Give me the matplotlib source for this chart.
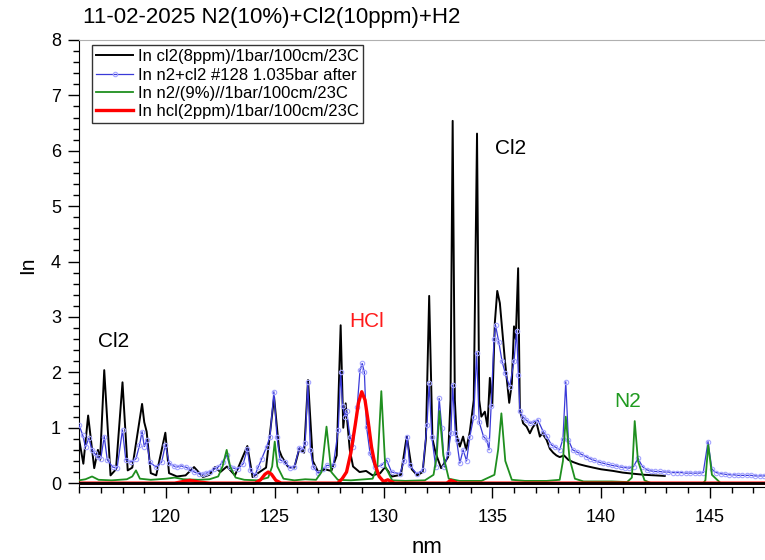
import matplotlib
matplotlib.use("Agg")
import matplotlib.pyplot as plt
from matplotlib.ticker import MultipleLocator

plt.rcParams['font.family'] = ['Liberation Sans', 'DejaVu Sans']

title = "11-02-2025 N2(10%)+Cl2(10ppm)+H2"
labels = ["In cl2(8ppm)/1bar/100cm/23C",
          "In n2+cl2 #128 1.035bar after",
          "In n2/(9%)//1bar/100cm/23C",
          "In hcl(2ppm)/1bar/100cm/23C"]

# Cl2 reference spectrum
cl2_nm = [116.0, 116.2, 116.42, 116.7, 116.87, 116.97, 117.16, 117.45, 117.7, 118.0,
          118.24, 118.45, 118.9, 119.0, 119.11, 119.3, 119.55, 119.97, 120.14, 120.5,
          120.9, 121.29, 121.7, 122.0, 122.25, 122.5, 122.8, 123.17, 123.74, 123.98,
          124.3, 124.6, 124.97, 125.2, 125.32, 125.6, 125.9, 126.13, 126.35, 126.53,
          126.75, 127.0, 127.3, 127.6, 127.85, 128.03, 128.15, 128.26, 128.45, 128.6,
          128.9, 129.2, 129.5, 129.85, 130.07, 130.4, 130.8, 131.07, 131.3, 131.55,
          131.8, 131.95, 132.1, 132.25, 132.4, 132.65, 132.97, 133.08, 133.18, 133.28,
          133.36, 133.51, 133.66, 133.8, 133.97, 134.15, 134.3, 134.4, 134.5, 134.66,
          134.78, 134.89, 135.0, 135.12, 135.23, 135.35, 135.58, 135.78, 135.9, 136.0,
          136.08, 136.19, 136.27, 136.42, 136.58, 136.73, 136.85, 137.03, 137.19, 137.3,
          137.5, 137.65, 137.8, 137.95, 138.1, 138.3, 138.5, 138.72, 139.0, 139.3,
          139.64, 140.0, 140.56, 141.0, 141.47, 142.0, 142.5, 142.93]
cl2_val = [0.80, 0.35, 1.22, 0.27, 0.60, 0.42, 2.04, 0.14, 0.25, 1.82,
           0.23, 0.28, 1.43, 1.10, 0.93, 0.18, 0.14, 0.91, 0.18, 0.12,
           0.14, 0.29, 0.11, 0.15, 0.29, 0.20, 0.30, 0.14, 0.67, 0.11,
           0.20, 0.28, 1.55, 0.60, 0.48, 0.30, 0.28, 0.62, 0.55, 1.86,
           0.40, 0.20, 0.25, 0.22, 0.50, 2.85, 1.00, 1.44, 0.60, 0.30,
           0.20, 0.22, 0.14, 0.18, 0.29, 0.12, 0.15, 0.85, 0.25, 0.14,
           0.20, 0.80, 3.38, 0.80, 0.54, 0.27, 0.47, 1.50, 6.54, 1.50,
           0.87, 0.66, 0.84, 0.60, 0.93, 1.50, 6.31, 1.50, 1.20, 1.29,
           1.02, 1.90, 1.40, 2.90, 3.47, 3.25, 2.22, 1.45, 1.80, 2.83,
           2.60, 3.88, 1.32, 1.08, 1.02, 0.90, 1.00, 1.10, 0.84, 0.90,
           0.78, 0.62, 0.55, 0.50, 0.47, 0.50, 0.42, 0.38, 0.34, 0.31,
           0.28, 0.25, 0.22, 0.19, 0.17, 0.15, 0.14, 0.13]

# N2 + Cl2 mixture, run #128
mix_nm = [116.0, 116.17, 116.3, 116.45, 116.6, 116.72, 116.86, 117.0, 117.16, 117.3,
          117.55, 117.75, 118.0, 118.15, 118.4, 118.62, 118.78, 118.9, 119.0, 119.11,
          119.25, 119.54, 119.8, 119.97, 120.15, 120.35, 120.5, 120.7, 120.9, 121.1,
          121.3, 121.5, 121.7, 121.85, 122.0, 122.2, 122.4, 122.6, 122.79, 122.95,
          123.1, 123.32, 123.55, 123.74, 123.88, 124.09, 124.25, 124.4, 124.63, 124.78,
          124.96, 125.1, 125.24, 125.47, 125.7, 125.9, 126.13, 126.27, 126.4, 126.52,
          126.64, 126.77, 127.0, 127.2, 127.4, 127.69, 127.92, 128.03, 128.12, 128.23,
          128.3, 128.46, 128.6, 128.79, 128.92, 129.02, 129.12, 129.22, 129.38, 129.6,
          129.91, 130.14, 130.37, 130.75, 130.95, 131.09, 131.2, 131.52, 131.8, 132.0,
          132.1, 132.22, 132.4, 132.56, 132.68, 132.8, 132.97, 133.1, 133.18, 133.3,
          133.36, 133.51, 133.66, 133.82, 133.97, 134.15, 134.28, 134.4, 134.6, 134.75,
          134.85, 134.95, 135.08, 135.15, 135.3, 135.45, 135.6, 135.8, 136.0, 136.12,
          136.2, 136.27, 136.4, 136.55, 136.75, 136.9, 137.1, 137.34, 137.5, 137.72,
          137.9, 138.1, 138.25, 138.38, 138.5, 138.7, 138.9, 139.1, 139.3, 139.5,
          139.7, 139.9, 140.1, 140.3, 140.5, 140.7, 140.9, 141.1, 141.3, 141.5,
          141.7, 141.9, 142.1, 142.3, 142.5, 142.7, 142.9, 143.1, 143.3, 143.5,
          143.7, 143.9, 144.1, 144.3, 144.5, 144.7, 144.92, 145.1, 145.3, 145.5,
          145.7, 145.9, 146.1, 146.3, 146.5, 146.7, 146.9, 147.1, 147.3, 147.5,
          147.7, 147.9]
mix_val = [1.05, 0.87, 0.65, 0.81, 0.60, 0.54, 0.47, 0.44, 0.84, 0.42,
           0.29, 0.27, 0.96, 0.42, 0.38, 0.44, 0.68, 0.93, 0.66, 0.78,
           0.38, 0.29, 0.38, 0.69, 0.36, 0.31, 0.29, 0.31, 0.29, 0.25,
           0.20, 0.17, 0.16, 0.18, 0.20, 0.25, 0.29, 0.38, 0.50, 0.29,
           0.27, 0.26, 0.35, 0.62, 0.23, 0.14, 0.30, 0.44, 0.66, 0.84,
           1.65, 0.84, 0.42, 0.38, 0.27, 0.29, 0.64, 0.60, 0.72, 1.82,
           0.60, 0.29, 0.18, 0.25, 0.32, 0.32, 0.96, 2.00, 1.40, 1.20,
           1.30, 0.84, 0.66, 1.38, 2.04, 2.16, 2.00, 1.02, 0.54, 0.29,
           0.32, 0.42, 0.20, 0.17, 0.40, 0.84, 0.32, 0.17, 0.23, 1.05,
           1.80, 0.84, 0.29, 1.53, 1.00, 0.29, 0.55, 0.90, 1.77, 0.90,
           0.78, 0.36, 0.60, 0.40, 0.84, 1.20, 2.35, 1.10, 0.84, 0.78,
           0.60, 1.40, 2.60, 2.85, 2.55, 2.20, 1.98, 1.74, 2.20, 2.75,
           1.95, 1.30, 1.20, 1.14, 1.08, 1.10, 1.14, 0.93, 0.85, 0.69,
           0.65, 0.60, 0.80, 1.83, 0.78, 0.60, 0.56, 0.52, 0.48, 0.44,
           0.41, 0.38, 0.36, 0.34, 0.32, 0.31, 0.29, 0.28, 0.27, 0.30,
           0.45, 0.30, 0.24, 0.22, 0.21, 0.21, 0.20, 0.20, 0.19, 0.19,
           0.19, 0.18, 0.18, 0.18, 0.18, 0.19, 0.75, 0.25, 0.19, 0.17,
           0.16, 0.15, 0.15, 0.14, 0.14, 0.14, 0.14, 0.13, 0.13, 0.13,
           0.13, 0.13]

# N2 reference spectrum
n2_nm = [116.0, 116.3, 116.6, 116.9, 117.5, 118.2, 118.45, 118.62, 118.8, 119.3,
         120.0, 120.4, 120.8, 121.5, 122.0, 122.4, 122.6, 122.79, 122.95, 123.2,
         123.6, 124.2, 124.7, 124.88, 125.0, 125.12, 125.4, 125.9, 126.4, 126.9,
         127.15, 127.38, 127.6, 127.9, 128.5, 129.5, 129.72, 129.9, 130.08, 130.4,
         131.0, 131.9, 132.3, 132.45, 132.57, 132.75, 133.0, 133.5, 134.5, 135.1,
         135.27, 135.42, 135.6, 135.9, 136.5, 137.5, 138.1, 138.25, 138.38, 138.55,
         138.8, 139.2, 140.5, 141.2, 141.42, 141.55, 141.7, 142.0, 142.3, 144.7,
         144.8, 144.93, 145.1, 145.5]
n2_val = [0.05, 0.07, 0.12, 0.06, 0.05, 0.07, 0.12, 0.23, 0.08, 0.06,
          0.08, 0.10, 0.07, 0.06, 0.07, 0.12, 0.30, 0.60, 0.30, 0.10,
          0.06, 0.05, 0.10, 0.30, 0.75, 0.30, 0.08, 0.05, 0.07, 0.06,
          0.20, 1.02, 0.20, 0.06, 0.05, 0.08, 0.30, 1.66, 0.30, 0.05,
          0.04, 0.05, 0.15, 0.50, 1.30, 0.50, 0.08, 0.04, 0.04, 0.15,
          0.60, 1.26, 0.40, 0.06, 0.04, 0.04, 0.06, 0.40, 1.20, 0.45,
          0.08, 0.03, 0.03, 0.02, 0.10, 1.12, 0.40, 0.05, 0.00, 0.00,
          0.05, 0.69, 0.15, 0.00]

# HCl reference spectrum
hcl_nm = [116.0, 120.4, 120.8, 121.1, 121.5, 122.0, 124.1, 124.35, 124.55, 124.7,
          124.85, 125.05, 125.3, 127.9, 128.1, 128.3, 128.5, 128.7, 128.85, 129.0,
          129.15, 129.3, 129.45, 129.6, 129.8, 130.0, 130.2, 130.5, 132.9, 133.1,
          133.4, 148.0]
hcl_val = [0.00, 0.00, 0.03, 0.05, 0.02, 0.00, 0.00, 0.06, 0.16, 0.20,
           0.16, 0.05, 0.00, 0.00, 0.08, 0.20, 0.55, 1.05, 1.45, 1.65,
           1.50, 1.10, 0.65, 0.35, 0.12, 0.03, 0.06, 0.00, 0.00, 0.05,
           0.00, 0.00]

fig = plt.figure(figsize=(7.65, 5.6), dpi=100)
ax = fig.add_axes([79 / 765, 1 - 487 / 560, 696 / 765, 447 / 560])

ax.plot(cl2_nm, cl2_val, color='black', lw=1.4, label=labels[0], zorder=2)
ax.plot(mix_nm, mix_val, color='#3a3ad8', lw=0.9, marker='o', ms=3.2,
        mfc='none', mec='#a4a4ff', mew=0.8, label=labels[1], zorder=3)
ax.plot(n2_nm, n2_val, color='#1f8f1f', lw=1.3, label=labels[2], zorder=4)
ax.plot(hcl_nm, hcl_val, color='#ff0000', lw=2.4, label=labels[3], zorder=5)
# zero line sits above the traces
ax.axhline(0, color='black', lw=2.0, zorder=6)

ax.set_xlim(116, 148)
ax.set_ylim(-0.07, 8)
ax.xaxis.set_major_locator(MultipleLocator(5))
ax.xaxis.set_minor_locator(MultipleLocator(1))
ax.yaxis.set_major_locator(MultipleLocator(1))
ax.yaxis.set_minor_locator(MultipleLocator(0.2))
ax.tick_params(which='major', direction='out', length=8, width=1, labelsize=13)
ax.tick_params(axis='x', which='major', pad=8)
ax.tick_params(axis='y', which='major', pad=5)
ax.tick_params(which='minor', direction='out', length=4, width=1)
ax.spines['top'].set_color('#b0b0b0')
ax.spines['right'].set_visible(False)

ax.text(117.61, 2.56, 'Cl2', fontsize=15, ha='center', va='center')
ax.text(135.85, 6.05, 'Cl2', fontsize=15, ha='center', va='center')
ax.text(129.24, 2.92, 'HCl', fontsize=15, color='#ff1a1a', ha='center', va='center')
ax.text(141.23, 1.48, 'N2', fontsize=15, color='#1f9a1f', ha='center', va='center')

fig.text(83 / 765, 1 - 18 / 560, title, fontsize=16, va='center', ha='left')
fig.text(28 / 765, 1 - 265 / 560, 'In', fontsize=15, rotation=90, va='center', ha='center')
ax.set_xlabel('nm', fontsize=16, labelpad=8)

leg = ax.legend(loc='upper left', bbox_to_anchor=(13 / 696, 1 - 5 / 447), borderaxespad=0,
                fontsize=12, frameon=True, fancybox=False, handlelength=2.2,
                handletextpad=0.3, borderpad=0.25, labelspacing=0.2)
leg.get_frame().set_edgecolor('black')
leg.get_frame().set_linewidth(1.0)

fig.savefig('out.png', dpi=100)
